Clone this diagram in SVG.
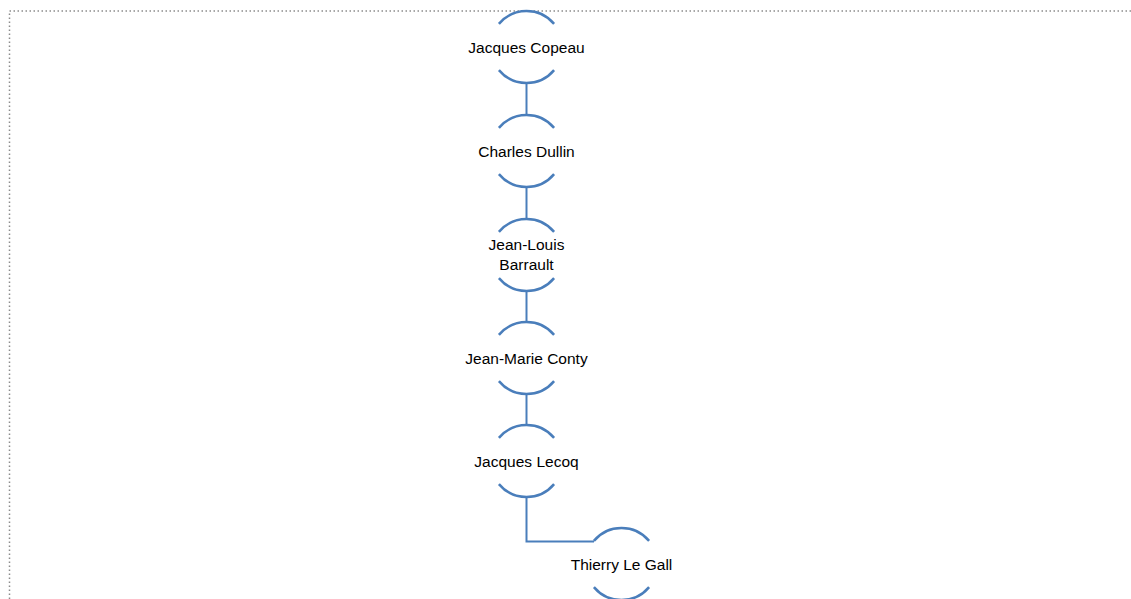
<svg xmlns="http://www.w3.org/2000/svg" width="1131" height="599" viewBox="0 0 1131 599">
<style>
.bg{fill:#fff}
.frame{fill:none;stroke:#8c8c8c;stroke-width:1.5;stroke-dasharray:1.5 2.5}
.arc{fill:none;stroke:#4a7ebb;stroke-width:2.5}
.conn{fill:none;stroke:#4a7ebb;stroke-width:2}
.lbl{font-family:"Liberation Sans",Arial,sans-serif;font-size:15.5px;fill:#000;text-anchor:middle}
</style>
<defs>
<g id="ring">
<path class="arc" d="M -27.6 -23.1 A 36 36 0 0 1 27.6 -23.1"/>
<path class="arc" d="M -27.6 23.1 A 36 36 0 0 0 27.6 23.1"/>
</g>
</defs>
<rect class="bg" x="0" y="0" width="1131" height="599"/>
<rect class="frame" x="9.5" y="11" width="1140" height="620"/>
<g id="connectors">
<line class="conn" x1="526.5" y1="83" x2="526.5" y2="115"/>
<line class="conn" x1="526.5" y1="187" x2="526.5" y2="219"/>
<line class="conn" x1="526.5" y1="291" x2="526.5" y2="322"/>
<line class="conn" x1="526.5" y1="394" x2="526.5" y2="425"/>
<polyline class="conn" points="526.5,497 526.5,541.5 594,541.5"/>
</g>
<g id="node-copeau">
<use href="#ring" x="526.5" y="47"/>
<text class="lbl" x="526.5" y="52.5">Jacques Copeau</text>
</g>
<g id="node-dullin">
<use href="#ring" x="526.5" y="151"/>
<text class="lbl" x="526.5" y="156.5">Charles Dullin</text>
</g>
<g id="node-barrault">
<use href="#ring" x="526.5" y="255"/>
<text class="lbl" x="526.5" y="250">Jean-Louis</text>
<text class="lbl" x="526.5" y="270">Barrault</text>
</g>
<g id="node-conty">
<use href="#ring" x="526.5" y="358"/>
<text class="lbl" x="526.5" y="363.5">Jean-Marie Conty</text>
</g>
<g id="node-lecoq">
<use href="#ring" x="526.5" y="461"/>
<text class="lbl" x="526.5" y="466.5">Jacques Lecoq</text>
</g>
<g id="node-legall">
<use href="#ring" x="621.5" y="564"/>
<text class="lbl" x="621.5" y="569.5">Thierry Le Gall</text>
</g>
</svg>
